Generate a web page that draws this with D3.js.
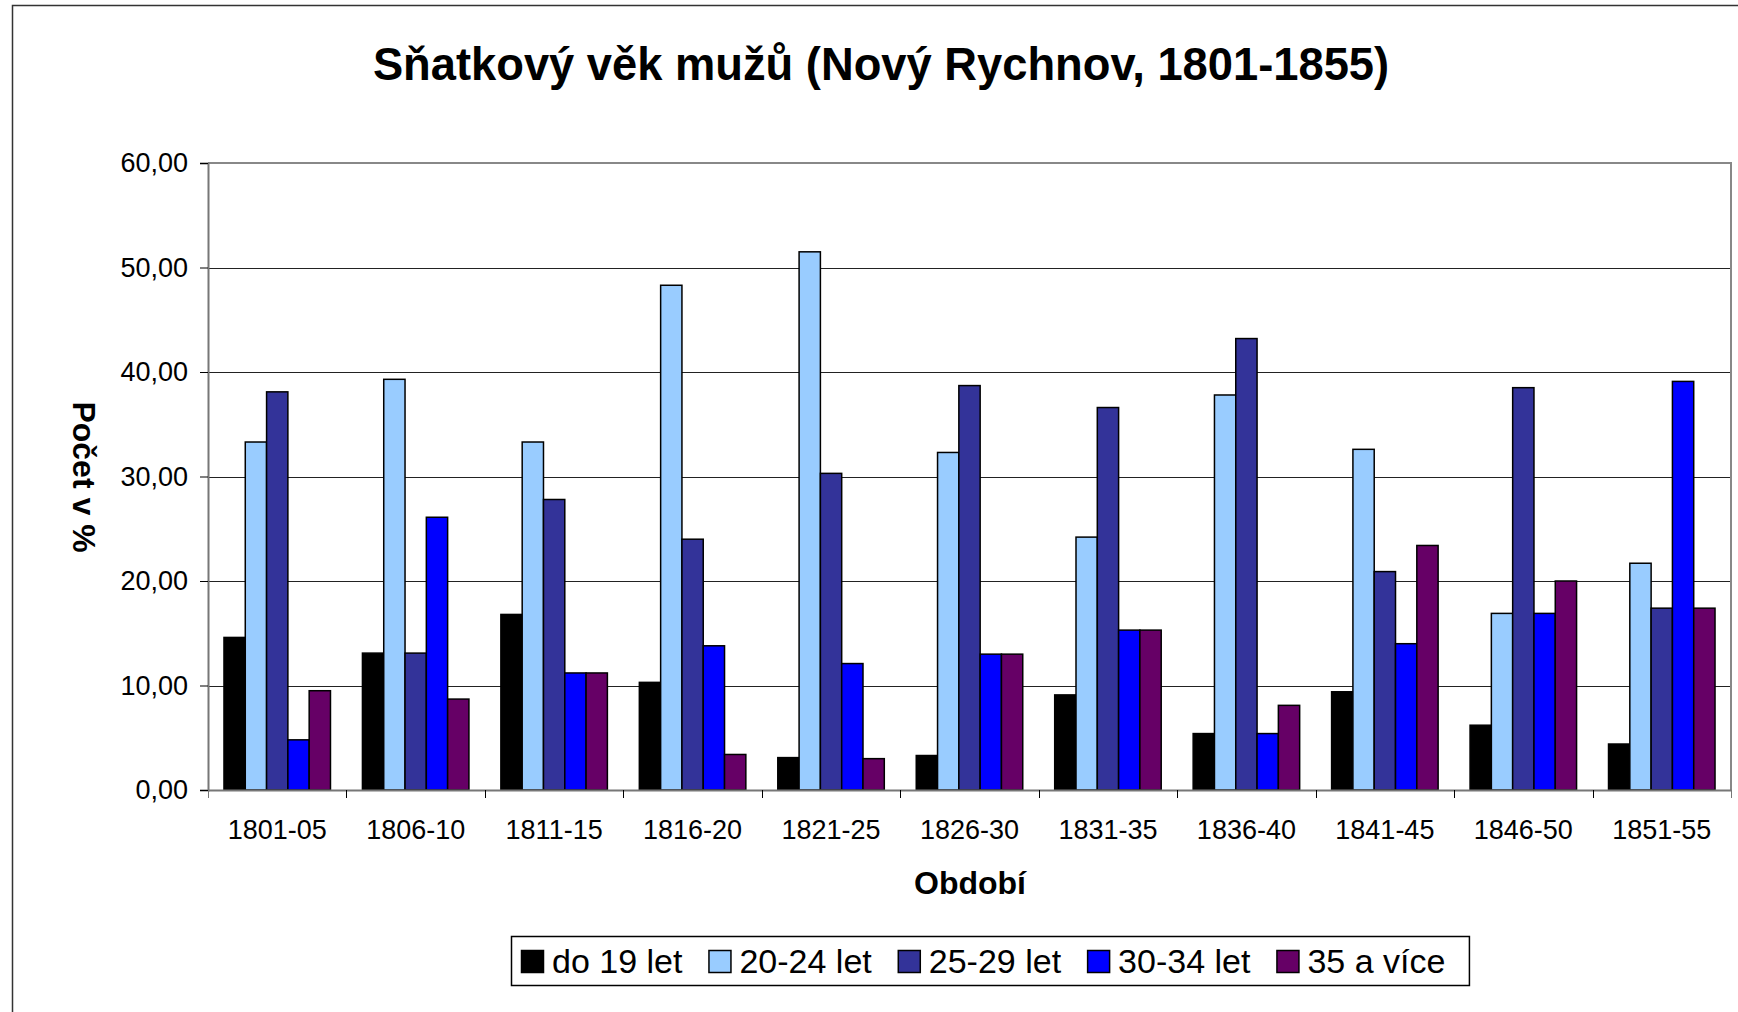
<!DOCTYPE html>
<html>
<head>
<meta charset="utf-8">
<script src="https://cdn.jsdelivr.net/npm/d3@7"></script>
<style>
    html, body { margin: 0; padding: 0; background: #fff; }
    svg { display: block; font-family: "Liberation Sans", Arial, sans-serif; }
</style>
</head>
<body>
<div id="chart"></div>
<script>
// Marriage age of men, Nový Rychnov 1801-1855, share of grooms per age group (%).
const periods = ['1801-05', '1806-10', '1811-15', '1816-20', '1821-25', '1826-30',
    '1831-35', '1836-40', '1841-45', '1846-50', '1851-55'];
const seriesNames = ['do 19 let', '20-24 let', '25-29 let', '30-34 let', '35 a více'];
const seriesColors = ['#000000', '#99ccff', '#333399', '#0000ff', '#660066'];

const upTo19 = [14.6, 13.1, 16.8, 10.3, 3.1, 3.3, 9.1, 5.4, 9.4, 6.2, 4.4];
const age20to24 = [33.3, 39.3, 33.3, 48.3, 51.5, 32.3, 24.2, 37.8, 32.6, 16.9, 21.7];
const age25to29 = [38.1, 13.1, 27.8, 24.0, 30.3, 38.7, 36.6, 43.2, 20.9, 38.5, 17.4];
const age30to34 = [4.8, 26.1, 11.2, 13.8, 12.1, 13.0, 15.3, 5.4, 14.0, 16.9, 39.1];
const age35plus = [9.5, 8.7, 11.2, 3.4, 3.0, 13.0, 15.3, 8.1, 23.4, 20.0, 17.4];

const yTicks = [0, 10, 20, 30, 40, 50, 60];

(function () {
    const W = 1738;
    const H = 1012;
    const plot = { left: 208, top: 163, right: 1731, bottom: 790 };
    const fmt = (v) => v.toFixed(2).replace('.', ',');

    const seriesValues = [upTo19, age20to24, age25to29, age30to34, age35plus];
    const rows = periods.map((p, i) => ({
        period: p,
        values: seriesNames.map((name, s) => ({ name, s, value: seriesValues[s][i] })),
    }));

    const svg = d3.select('#chart').append('svg')
        .attr('width', W)
        .attr('height', H);

    svg.append('rect').attr('width', W).attr('height', H).attr('fill', '#fff');

    // outer chart frame (runs off the right and bottom edge in the original)
    svg.append('rect')
        .attr('x', 12.5).attr('y', 5.5)
        .attr('width', W).attr('height', H)
        .attr('fill', 'none')
        .attr('stroke', '#333')
        .attr('stroke-width', 1.5);

    const x = d3.scaleBand().domain(periods).range([plot.left, plot.right]).padding(0);
    // Excel-style gap width of 150% between groups
    const inner = d3.scaleBand().domain(d3.range(seriesNames.length))
        .range([0, x.bandwidth()])
        .paddingOuter(0.75)
        .paddingInner(0);
    const y = d3.scaleLinear().domain([0, 60]).range([plot.bottom, plot.top]);

    // gridlines
    svg.append('g')
        .selectAll('line')
        .data(yTicks.filter((t) => t > 0 && t < 60))
        .join('line')
        .attr('x1', plot.left).attr('x2', plot.right)
        .attr('y1', (d) => Math.round(y(d)) + 0.5)
        .attr('y2', (d) => Math.round(y(d)) + 0.5)
        .attr('stroke', '#222')
        .attr('stroke-width', 1);

    // plot frame top and right
    svg.append('path')
        .attr('d', `M${plot.left},${plot.top}H${plot.right}V${plot.bottom}`)
        .attr('fill', 'none')
        .attr('stroke', '#888')
        .attr('stroke-width', 2);

    // bars
    const group = svg.append('g')
        .selectAll('g')
        .data(rows)
        .join('g')
        .attr('transform', (d) => `translate(${x(d.period)},0)`);

    group.selectAll('rect')
        .data((d) => d.values)
        .join('rect')
        .attr('x', (d) => inner(d.s))
        .attr('width', inner.bandwidth())
        .attr('y', (d) => y(d.value))
        .attr('height', (d) => y(0) - y(d.value))
        .attr('fill', (d) => seriesColors[d.s])
        .attr('stroke', '#000')
        .attr('stroke-width', 1.5);

    // y axis
    const yAxis = svg.append('g')
        .attr('transform', `translate(${plot.left},0)`)
        .call(d3.axisLeft(y).tickValues(yTicks).tickFormat(fmt).tickSize(8).tickPadding(12));
    yAxis.select('.domain').attr('stroke', '#777').attr('stroke-width', 2);
    yAxis.selectAll('.tick line').attr('stroke', '#000');
    yAxis.selectAll('.tick text')
        .attr('font-size', 27)
        .attr('fill', '#000')
        .attr('font-family', '"Liberation Sans", Arial, sans-serif');

    // x axis, ticks sit on the category boundaries
    const xAxis = svg.append('g')
        .attr('transform', `translate(0,${plot.bottom})`)
        .call(d3.axisBottom(x).tickSize(0).tickPadding(30));
    xAxis.select('.domain').attr('stroke', '#777').attr('stroke-width', 2);
    xAxis.selectAll('.tick text')
        .attr('font-size', 27)
        .attr('fill', '#000')
        .attr('font-family', '"Liberation Sans", Arial, sans-serif');

    svg.append('g')
        .selectAll('line')
        .data(periods.concat(['end']))
        .join('line')
        .attr('x1', (d, i) => Math.round(plot.left + i * x.step()) + 0.5)
        .attr('x2', (d, i) => Math.round(plot.left + i * x.step()) + 0.5)
        .attr('y1', plot.bottom)
        .attr('y2', plot.bottom + 8)
        .attr('stroke', (d, i) => (i === 0 || i === periods.length) ? '#777' : '#000')
        .attr('stroke-width', 1);

    // titles
    svg.append('text')
        .attr('x', 881).attr('y', 80)
        .attr('text-anchor', 'middle')
        .attr('font-size', 45.3)
        .attr('font-weight', 'bold')
        .text('Sňatkový věk mužů (Nový Rychnov, 1801-1855)');

    svg.append('text')
        .attr('x', 970).attr('y', 894)
        .attr('text-anchor', 'middle')
        .attr('font-size', 32)
        .attr('font-weight', 'bold')
        .text('Období');

    svg.append('text')
        .attr('transform', 'translate(73,477) rotate(90)')
        .attr('text-anchor', 'middle')
        .attr('font-size', 32)
        .attr('font-weight', 'bold')
        .text('Počet v %');

    // legend
    const legend = svg.append('g');
    const box = legend.append('rect')
        .attr('x', 511.5).attr('y', 936.5)
        .attr('height', 49)
        .attr('fill', '#fff')
        .attr('stroke', '#000')
        .attr('stroke-width', 1.5);

    let cx = 521;
    seriesNames.forEach((name, s) => {
        legend.append('rect')
            .attr('x', cx + 0.5).attr('y', 950.5)
            .attr('width', 22).attr('height', 22)
            .attr('fill', seriesColors[s])
            .attr('stroke', '#000')
            .attr('stroke-width', 1.5);
        const t = legend.append('text')
            .attr('x', cx + 31).attr('y', 973)
            .attr('font-size', 34)
            .text(name);
        cx += 31 + t.node().getComputedTextLength() + 26;
    });
    box.attr('width', cx - 26 + 24 - 511.5);
})();
</script>
</body>
</html>
